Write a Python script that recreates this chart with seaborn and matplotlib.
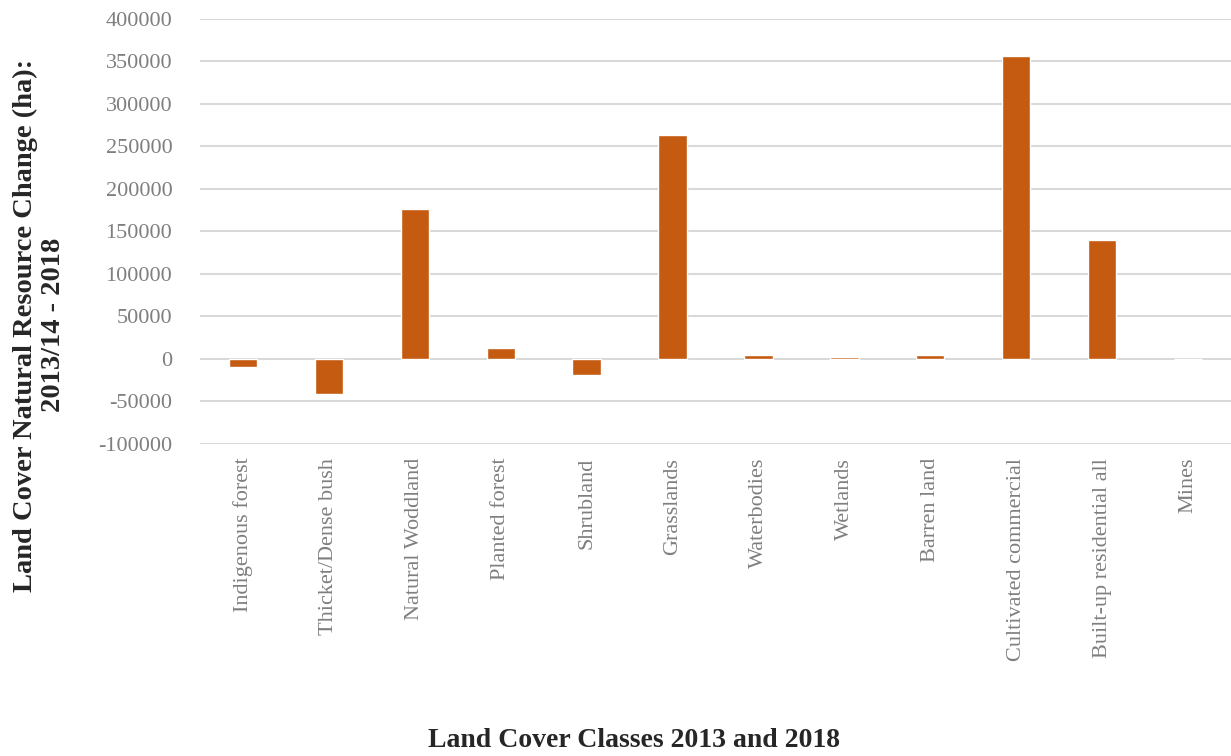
import matplotlib
matplotlib.use("Agg")
import matplotlib.pyplot as plt
import seaborn as sns
import pandas as pd

categories = ["Indigenous forest", "Thicket/Dense bush", "Natural Woddland", "Planted forest",
              "Shrubland", "Grasslands", "Waterbodies", "Wetlands", "Barren land",
              "Cultivated commercial", "Built-up residential all", "Mines"]
change_ha = [-10000, -41000, 176000, 13000, -19000, 263000, 4500, 2200, 4500, 356000, 140000, 0]
y_ticks = list(range(-100000, 400001, 50000))

df = pd.DataFrame({"cls": categories, "change": change_ha})

sns.set_style("white")
plt.rcParams["font.family"] = ["Liberation Serif", "DejaVu Serif"]

fig = plt.figure(figsize=(12.31, 7.56), dpi=100)
ax = fig.add_axes([0.1625, 0.413, 0.8375, 0.562])
ax.yaxis.grid(True, color="#d9d9d9", linewidth=1.5)
ax.set_axisbelow(True)

sns.barplot(data=df, x="cls", y="change", color="#C55A11", saturation=1,
            width=0.33, ax=ax, zorder=3)

ax.set_ylim(-100000, 400000)
ax.set_xlim(-0.5, len(categories) - 0.5)
ax.set_yticks(y_ticks)
ax.set_yticklabels([str(v) for v in y_ticks], color="#7f7f7f", fontsize=16)
ax.set_xticks(range(len(categories)))
ax.set_xticklabels(categories, rotation=90, color="#7f7f7f", fontsize=16)
ax.tick_params(axis="y", length=0, pad=20)
ax.tick_params(axis="x", length=0, pad=10)
ax.xaxis.grid(False)
for s in ax.spines.values():
    s.set_visible(False)

ax.set_xlabel("")
ax.set_ylabel("")
fig.text(0.032, 0.57, "Land Cover Natural Resource Change (ha):\n2013/14 - 2018",
         rotation=90, ha="center", va="center", fontsize=20.5, fontweight="bold",
         color="#262626", linespacing=1.15)
fig.text(0.515, 0.020, "Land Cover Classes 2013 and 2018", ha="center", va="center",
         fontsize=20, fontweight="bold", color="#262626")

fig.savefig("out.png", dpi=100)
